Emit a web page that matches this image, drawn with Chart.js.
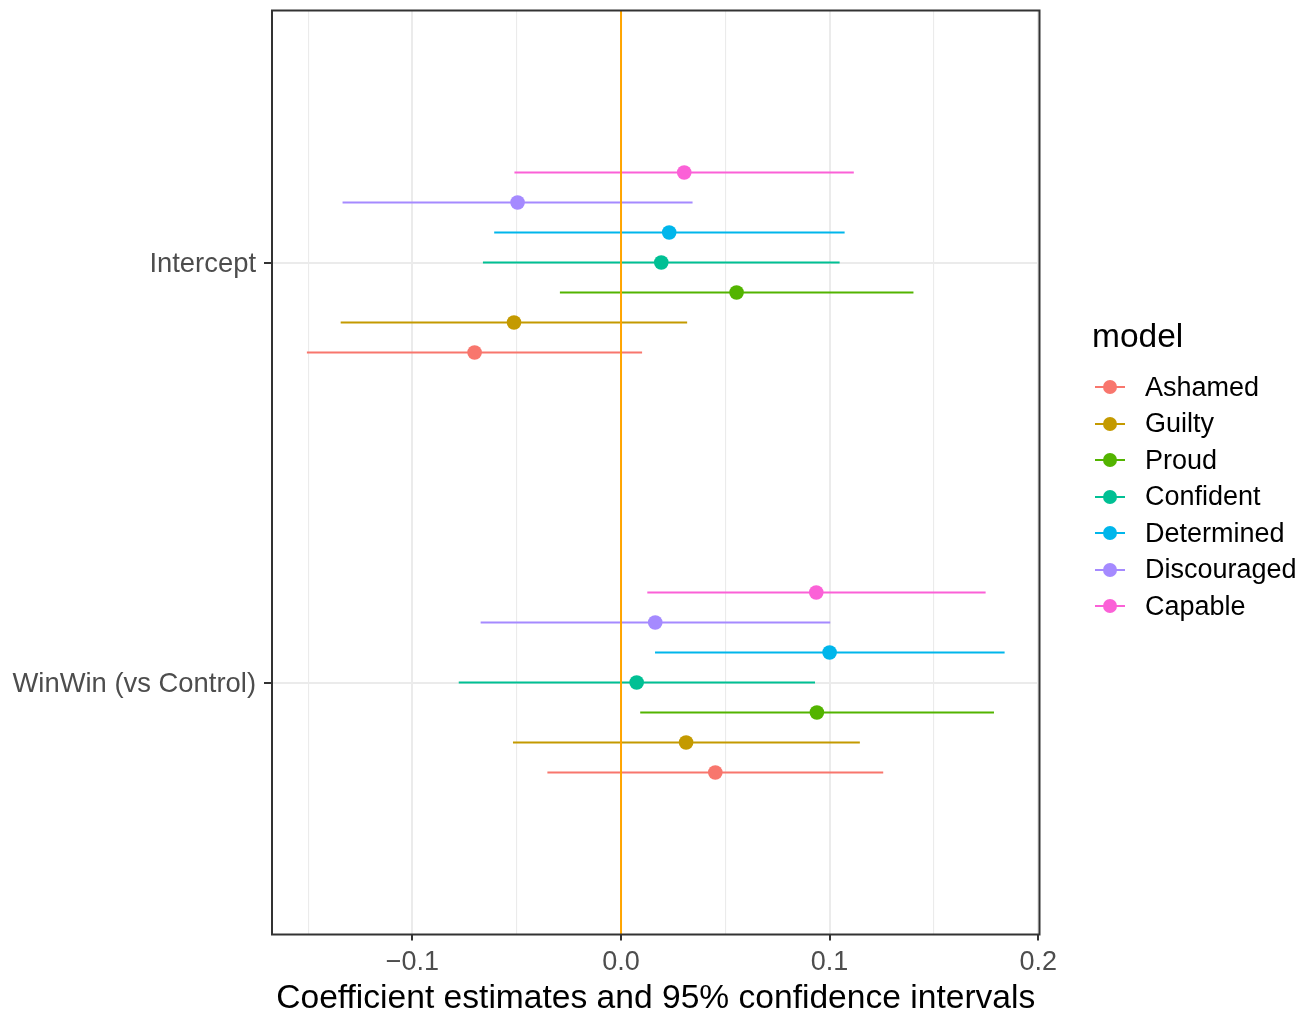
<!DOCTYPE html>
<html>
<head>
<meta charset="utf-8">
<title>Coefficient estimates</title>
<script src="https://cdn.jsdelivr.net/npm/chart.js@4.4.1/dist/chart.umd.min.js"></script>
<style>
  html, body { margin: 0; padding: 0; background: #ffffff; }
  #wrap { position: relative; width: 1316px; height: 1012px; }
  #plot { position: absolute; left: 0; top: 0; }
  .legend-title {
    position: absolute; left: 1092px; top: 319px;
    font-family: "Liberation Sans", Arial, Helvetica, sans-serif;
    font-size: 33.5px; line-height: 33px; color: #000000; white-space: nowrap;
  }
  .legend-items {
    position: absolute; left: 1095px; top: 369px;
    font-family: "Liberation Sans", Arial, Helvetica, sans-serif;
    font-size: 27px; color: #000000;
  }
  .legend-row { display: flex; align-items: center; height: 36.5px; white-space: nowrap; }
  .legend-key { position: relative; width: 30px; height: 36.5px; flex: none; }
  .legend-key .seg { position: absolute; left: 0; width: 30px; top: 17.25px; height: 2px; }
  .legend-key .dot { position: absolute; left: 8px; top: 11.25px; width: 14px; height: 14px; border-radius: 50%; }
  .legend-label { margin-left: 20px; }
</style>
</head>
<body>
<div id="wrap">
  <canvas id="plot" width="1316" height="1012"></canvas>
  <div class="legend-title">model</div>
  <div class="legend-items" id="legendItems"></div>
</div>
<script>
// Terms on the vertical axis (top to bottom) and their positions on the discrete axis
const categories = ['Intercept', 'WinWin (vs Control)'];
const categoryPos = [2, 1];

// Fitted models and their hue palette colours
const models = ['Ashamed', 'Guilty', 'Proud', 'Confident', 'Determined', 'Discouraged', 'Capable'];
const modelColors = ['#F8766D', '#C49A00', '#53B400', '#00C094', '#00B6EB', '#A58AFF', '#FB61D7'];

// Intercept: estimate and 95% CI bounds per model
const estIntercept  = [-0.0702, -0.0513,  0.0554,  0.0193,  0.0231, -0.0496,  0.0303];
const lowIntercept  = [-0.1506, -0.1344, -0.0293, -0.0662, -0.0608, -0.1335, -0.0511];
const highIntercept = [ 0.0101,  0.0317,  0.1402,  0.1048,  0.1072,  0.0343,  0.1116];

// WinWin (vs Control): estimate and 95% CI bounds per model
const estWinWin  = [ 0.0452,  0.0312,  0.0939,  0.0075,  0.1000,  0.0164,  0.0936];
const lowWinWin  = [-0.0353, -0.0518,  0.0092, -0.0778,  0.0163, -0.0673,  0.0126];
const highWinWin = [ 0.1257,  0.1145,  0.1788,  0.0930,  0.1839,  0.1003,  0.1748];

// Horizontal axis ticks
const xMajorTicks = [-0.1, 0, 0.1, 0.2];
const xMinorTicks = [-0.15, -0.05, 0.05, 0.15];
const referenceValue = 0;

const estimates = [estIntercept, estWinWin];
const lows = [lowIntercept, lowWinWin];
const highs = [highIntercept, highWinWin];

// Dodge models within each term
const dodgeWidth = 0.5;
const dodge = i => (i - (models.length - 1) / 2) * dodgeWidth / models.length;

// Axis ranges with ggplot-style expansion
const allLow = Math.min(...lows.flat(), ...estimates.flat());
const allHigh = Math.max(...highs.flat(), ...estimates.flat());
const span = allHigh - allLow;
const xMin = allLow - 0.05 * span;
const xMax = allHigh + 0.05 * span;
const yMin = Math.min(...categoryPos) - 0.6;
const yMax = Math.max(...categoryPos) + 0.6;

const FONT = '"Liberation Sans", Arial, Helvetica, sans-serif';
const isMajor = v => xMajorTicks.some(t => Math.abs(t - v) < 1e-9);
const fmt = v => (v < -1e-12 ? '\u2212' : '') + Math.abs(v).toFixed(1);

const datasets = [];

// Points (drawn on top)
models.forEach((m, i) => {
  datasets.push({
    type: 'scatter',
    label: m,
    data: categoryPos.map((p, k) => ({ x: estimates[k][i], y: p + dodge(i) })),
    backgroundColor: modelColors[i],
    borderWidth: 0,
    pointRadius: 7.3,
    pointHoverRadius: 7.3,
    order: 0
  });
});

// Reference line at zero
datasets.push({
  type: 'line',
  label: 'reference',
  data: [{ x: referenceValue, y: yMin }, { x: referenceValue, y: yMax }],
  borderColor: '#FFA500',
  borderWidth: 2,
  pointRadius: 0,
  order: 1
});

// Confidence interval segments
models.forEach((m, i) => {
  categoryPos.forEach((p, k) => {
    datasets.push({
      type: 'line',
      label: m + ' CI',
      data: [{ x: lows[k][i], y: p + dodge(i) }, { x: highs[k][i], y: p + dodge(i) }],
      borderColor: modelColors[i],
      borderWidth: 2,
      pointRadius: 0,
      order: 2
    });
  });
});

// Panel border around the plotting area
const panelBorder = {
  id: 'panelBorder',
  afterDatasetsDraw(chart) {
    const { ctx, chartArea: a } = chart;
    ctx.save();
    ctx.strokeStyle = '#333333';
    ctx.lineWidth = 2;
    ctx.strokeRect(a.left, a.top, a.right - a.left, a.bottom - a.top);
    ctx.restore();
  }
};

new Chart(document.getElementById('plot'), {
  type: 'scatter',
  data: { datasets },
  plugins: [panelBorder],
  options: {
    responsive: false,
    animation: false,
    devicePixelRatio: 1,
    events: [],
    layout: { padding: { left: 0, top: 10.5, right: 276.5, bottom: 0 } },
    plugins: { legend: { display: false }, tooltip: { enabled: false } },
    scales: {
      x: {
        type: 'linear',
        min: xMin,
        max: xMax,
        afterFit: s => { s.height = 77.5; s.paddingLeft = 0; s.paddingRight = 0; },
        afterBuildTicks: s => {
          s.ticks = [...xMinorTicks, ...xMajorTicks].sort((a, b) => a - b).map(v => ({ value: v }));
        },
        border: { display: false },
        grid: {
          color: '#EBEBEB',
          lineWidth: c => (c.tick && isMajor(c.tick.value) ? 2 : 1.1),
          drawTicks: true,
          tickLength: 6,
          tickWidth: 2,
          tickColor: c => (c.tick && isMajor(c.tick.value) ? '#333333' : 'rgba(0,0,0,0)')
        },
        ticks: {
          autoSkip: false,
          maxRotation: 0,
          padding: 6,
          color: '#4D4D4D',
          font: { family: FONT, size: 27 },
          callback: v => (isMajor(v) ? fmt(v) : '')
        },
        title: {
          display: true,
          text: 'Coefficient estimates and 95% confidence intervals',
          color: '#000000',
          font: { family: FONT, size: 33.6, lineHeight: 0.76 },
          padding: { top: 0, bottom: 0 }
        }
      },
      y: {
        type: 'linear',
        min: yMin,
        max: yMax,
        afterFit: s => { s.width = 272; s.paddingTop = 0; s.paddingBottom = 0; },
        afterBuildTicks: s => { s.ticks = categoryPos.map(v => ({ value: v })); },
        border: { display: false },
        grid: {
          color: '#EBEBEB',
          lineWidth: 2,
          drawTicks: true,
          tickLength: 8,
          tickWidth: 2,
          tickColor: '#333333'
        },
        ticks: {
          autoSkip: false,
          padding: 8,
          labelOffset: 2,
          color: '#4D4D4D',
          font: { family: FONT, size: 27.4 },
          callback: v => categories[categoryPos.indexOf(v)]
        }
      }
    }
  }
});

// Legend: line-and-point key per model
const legend = document.getElementById('legendItems');
models.forEach((m, i) => {
  const row = document.createElement('div');
  row.className = 'legend-row';
  const key = document.createElement('div');
  key.className = 'legend-key';
  const seg = document.createElement('div');
  seg.className = 'seg';
  seg.style.background = modelColors[i];
  const dot = document.createElement('div');
  dot.className = 'dot';
  dot.style.background = modelColors[i];
  key.appendChild(seg);
  key.appendChild(dot);
  const lab = document.createElement('span');
  lab.className = 'legend-label';
  lab.textContent = m;
  row.appendChild(key);
  row.appendChild(lab);
  legend.appendChild(row);
});
</script>
</body>
</html>
